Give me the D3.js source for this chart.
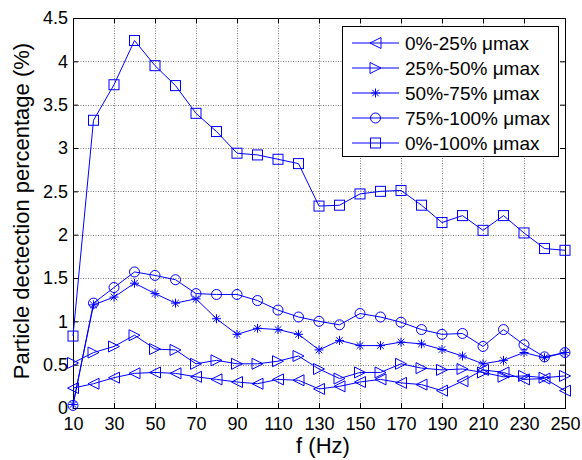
<!DOCTYPE html>
<html>
<head>
<meta charset="utf-8">
<script src="https://cdn.jsdelivr.net/npm/d3@7"></script>
<style>
  html, body { margin: 0; padding: 0; background: #fff; }
  svg { display: block; font-family: "Liberation Sans", Arial, sans-serif; }
</style>
</head>
<body>
<svg id="chart" width="582" height="460"></svg>
<script>
const freqs = [10,20,30,40,50,60,70,80,90,100,110,120,130,140,150,160,170,180,190,200,210,220,230,240,250];
const seriesNames = ["0%-25% μmax","25%-50% μmax","50%-75% μmax","75%-100% μmax","0%-100% μmax"];
const s0_25   = [0.23,0.28,0.35,0.40,0.41,0.40,0.36,0.33,0.30,0.28,0.33,0.32,0.22,0.25,0.30,0.33,0.29,0.27,0.20,0.31,0.44,0.41,0.33,0.34,0.20];
const s25_50  = [0.52,0.64,0.71,0.84,0.68,0.67,0.51,0.55,0.51,0.51,0.54,0.60,0.45,0.34,0.41,0.41,0.51,0.46,0.44,0.45,0.41,0.36,0.37,0.35,0.37];
const s50_75  = [0.04,1.19,1.28,1.44,1.32,1.21,1.26,1.03,0.85,0.92,0.905,0.85,0.67,0.78,0.72,0.72,0.76,0.74,0.675,0.60,0.51,0.55,0.64,0.58,0.64];
const s75_100 = [0.03,1.21,1.39,1.57,1.53,1.48,1.32,1.31,1.31,1.24,1.13,1.05,1.00,0.96,1.09,1.05,0.99,0.905,0.85,0.86,0.71,0.905,0.73,0.59,0.64];
const s0_100  = [0.83,3.32,3.73,4.24,3.95,3.72,3.40,3.19,2.94,2.92,2.87,2.82,2.33,2.34,2.47,2.50,2.51,2.34,2.14,2.22,2.05,2.22,2.02,1.84,1.82];
const xTicks = [10,30,50,70,90,110,130,150,170,190,210,230,250];
const yTicks = [0,0.5,1,1.5,2,2.5,3,3.5,4,4.5];
const markerTypes = ["triLeft","triRight","star","circle","square"];
const allSeries = [s0_25, s25_50, s50_75, s75_100, s0_100];

const svg = d3.select("#chart");
const L = 73, R = 565, T = 18, B = 408;
const x = d3.scaleLinear().domain([10,250]).range([L,R]);
const y = d3.scaleLinear().domain([0,4.5]).range([B,T]);
const blue = "#0000ff";

// grid
const grid = svg.append("g").attr("stroke","#7a7a7a").attr("stroke-width",1).attr("stroke-dasharray","1,1.5");
grid.selectAll(".vg").data(xTicks.slice(1,-1)).enter().append("line")
  .attr("x1",d=>x(d)+0.5).attr("x2",d=>x(d)+0.5).attr("y1",T).attr("y2",B);
grid.selectAll(".hg").data(yTicks.slice(1,-1)).enter().append("line")
  .attr("y1",d=>Math.round(y(d))+0.5).attr("y2",d=>Math.round(y(d))+0.5).attr("x1",L).attr("x2",R);

// axes
function styleAxis(g){ g.select(".domain").attr("stroke","#000"); g.selectAll(".tick line").attr("stroke","#000"); g.selectAll("text").attr("fill","#000").attr("font-size",18).attr("font-family","Liberation Sans, Arial, sans-serif"); }
svg.append("g").attr("transform",`translate(0,${B})`)
  .call(d3.axisBottom(x).tickValues(xTicks).tickSize(-5).tickPadding(9).tickFormat(d3.format("d")))
  .call(styleAxis);
svg.append("g").attr("transform",`translate(0,${T})`)
  .call(d3.axisTop(x).tickValues(xTicks).tickSize(-5).tickFormat(""))
  .call(styleAxis);
svg.append("g").attr("transform",`translate(${L},0)`)
  .call(d3.axisLeft(y).tickValues(yTicks).tickSize(-5).tickPadding(5).tickFormat(d=>String(d)))
  .call(styleAxis);
svg.append("g").attr("transform",`translate(${R},0)`)
  .call(d3.axisRight(y).tickValues(yTicks).tickSize(-5).tickFormat(""))
  .call(styleAxis);

// markers
function drawMarker(g, type, cx, cy){
  const s = 5.5;
  if(type==="circle"){
    g.append("circle").attr("cx",cx).attr("cy",cy).attr("r",5);
  } else if(type==="square"){
    g.append("rect").attr("x",cx-5).attr("y",cy-5).attr("width",10).attr("height",10);
  } else if(type==="triLeft"){
    g.append("path").attr("d",`M${cx-s},${cy}L${cx+s},${cy-s}L${cx+s},${cy+s}Z`);
  } else if(type==="triRight"){
    g.append("path").attr("d",`M${cx+s},${cy}L${cx-s},${cy-s}L${cx-s},${cy+s}Z`);
  } else if(type==="star"){
    const a = 4.5, b = 3.3;
    g.append("path").attr("d",`M${cx-a},${cy}L${cx+a},${cy}M${cx},${cy-a}L${cx},${cy+a}M${cx-b},${cy-b}L${cx+b},${cy+b}M${cx-b},${cy+b}L${cx+b},${cy-b}`);
  }
}

const line = d3.line().x((d,i)=>x(freqs[i])).y(d=>y(d));
allSeries.forEach((vals,k)=>{
  const g = svg.append("g").attr("fill","none").attr("stroke",blue).attr("stroke-width",1);
  g.append("path").attr("d",line(vals));
  vals.forEach((v,i)=>drawMarker(g, markerTypes[k], x(freqs[i]), y(v)));
});

// legend
const lg = svg.append("g");
lg.append("rect").attr("x",342.5).attr("y",26.5).attr("width",216).attr("height",130)
  .attr("fill","#fff").attr("stroke","#000").attr("stroke-width",1);
seriesNames.forEach((name,k)=>{
  const yy = 43 + k*25;
  const g = lg.append("g").attr("fill","none").attr("stroke",blue).attr("stroke-width",1);
  g.append("line").attr("x1",352).attr("x2",399).attr("y1",yy).attr("y2",yy);
  drawMarker(g, markerTypes[k], 375.5, yy);
  lg.append("text").attr("x",405).attr("y",yy).attr("dy","0.36em")
    .attr("font-size",19).attr("fill","#000").text(name);
});

// axis labels
svg.append("text").attr("x",323).attr("y",453).attr("text-anchor","middle")
  .attr("font-size",22).attr("fill","#000").text("f (Hz)");
svg.append("text").attr("transform",`translate(28.5,${(T+B)/2 - 2}) rotate(-90)`).attr("text-anchor","middle")
  .attr("font-size",22).attr("fill","#000").text("Particle dectection percentage (%)");
</script>
</body>
</html>
